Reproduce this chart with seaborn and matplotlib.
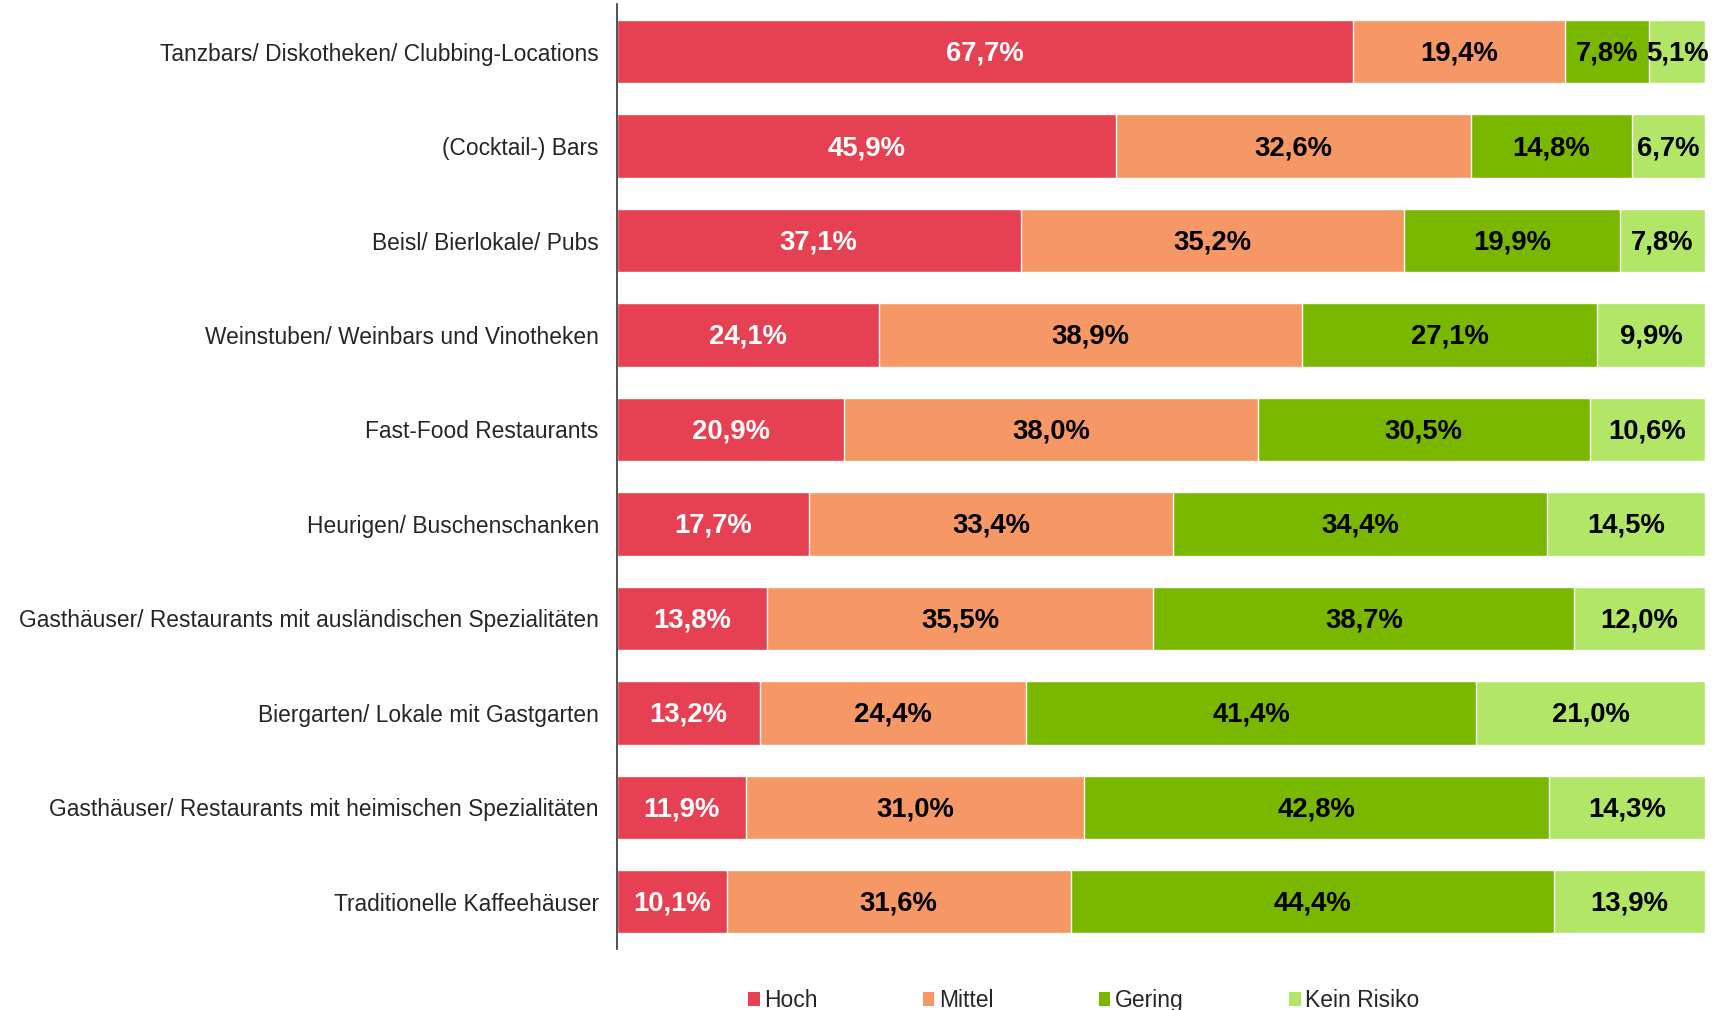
import matplotlib
matplotlib.use("Agg")
import matplotlib.pyplot as plt
import seaborn as sns
import pandas as pd
import numpy as np
from matplotlib.patches import Patch

categories = [
    "Tanzbars/ Diskotheken/ Clubbing-Locations",
    "(Cocktail-) Bars",
    "Beisl/ Bierlokale/ Pubs",
    "Weinstuben/ Weinbars und Vinotheken",
    "Fast-Food Restaurants",
    "Heurigen/ Buschenschanken",
    "Gasthäuser/ Restaurants mit ausländischen Spezialitäten",
    "Biergarten/ Lokale mit Gastgarten",
    "Gasthäuser/ Restaurants mit heimischen Spezialitäten",
    "Traditionelle Kaffeehäuser",
]
hoch = [67.7, 45.9, 37.1, 24.1, 20.9, 17.7, 13.8, 13.2, 11.9, 10.1]
mittel = [19.4, 32.6, 35.2, 38.9, 38.0, 33.4, 35.5, 24.4, 31.0, 31.6]
gering = [7.8, 14.8, 19.9, 27.1, 30.5, 34.4, 38.7, 41.4, 42.8, 44.4]
kein = [5.1, 6.7, 7.8, 9.9, 10.6, 14.5, 12.0, 21.0, 14.3, 13.9]
series_names = ["Hoch", "Mittel", "Gering", "Kein Risiko"]
colors = ["#E64152", "#F59866", "#7AB800", "#B2E667"]
text_colors = ["white", "black", "black", "black"]

sns.set_style("white")
plt.rcParams["font.family"] = ["Liberation Sans", "DejaVu Sans"]

series = [hoch, mittel, gering, kein]
cum = np.cumsum(np.array(series), axis=0)

fig = plt.figure(figsize=(17.23, 10.10), dpi=100)
ax = fig.add_axes([0.358, 0.0604, 0.9895 - 0.358, 0.9956 - 0.0604])

# draw cumulative layers from the outermost inwards
for i in range(len(series) - 1, -1, -1):
    d = pd.DataFrame({"Kategorie": categories, "wert": cum[i]})
    sns.barplot(data=d, x="wert", y="Kategorie", color=colors[i], saturation=1,
                width=0.67, ax=ax, orient="h")

for i, vals in enumerate(series):
    start = cum[i] - np.array(vals)
    for j, v in enumerate(vals):
        ax.text(start[j] + v / 2, j + 0.02, f"{v:.1f}%".replace(".", ","),
                ha="center", va="center", fontsize=19.8, fontweight="bold",
                color=text_colors[i])

ax.set_xlim(0, 100)
ax.set_ylim(9.5, -0.5)
ax.set_xlabel("")
ax.set_ylabel("")
ax.set_xticks([])
ax.tick_params(axis="y", length=0, pad=13, labelsize=16.4)
for s in ["top", "right", "bottom"]:
    ax.spines[s].set_visible(False)
ax.spines["left"].set_color("#333333")
ax.spines["left"].set_linewidth(1.2)

handles = [Patch(facecolor=c, edgecolor="none") for c in colors]
fig.legend(handles, series_names, loc="center", bbox_to_anchor=(0.629, 0.009),
           ncol=4, frameon=False, fontsize=16.5, handlelength=0.5,
           handleheight=0.55, handletextpad=0.2, columnspacing=4.6)

fig.savefig("out.png", dpi=100)
